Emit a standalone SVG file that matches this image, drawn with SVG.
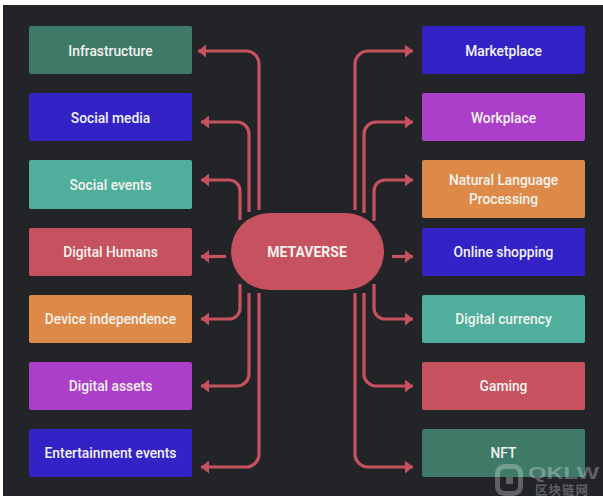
<svg xmlns="http://www.w3.org/2000/svg" width="603" height="500" viewBox="0 0 603 500">
<defs>
<marker id="ah" markerUnits="userSpaceOnUse" markerWidth="9" markerHeight="13" refX="8.500" refY="6.500" orient="auto"><path d="M0.500,0L8.500,6.500L0.500,13Z" fill="#c7525f"/></marker>
</defs>
<style>
text{font-family:"Roboto","Noto Sans","Liberation Sans",sans-serif;font-size:13.800px;font-weight:500;fill:#f2f2ee;text-anchor:middle;letter-spacing:0}
.c{fill:none;stroke:#c7525f;stroke-width:3.200}
.g{fill:#3f7a69}.b{fill:#3322c6}.t{fill:#50ae9d}.r{fill:#c7525f}.o{fill:#dd8a48}.p{fill:#ab3fc9}
.w{font-family:"Liberation Sans",sans-serif;font-weight:700;fill:#fff;fill-opacity:.28;letter-spacing:0}
</style>
<rect width="603" height="500" fill="#fff"/>
<rect x="3" y="5" width="600" height="491" fill="#232428"/>
<g id="connectors">
<path class="c" marker-end="url(#ah)" d="M259,210V64A13,13 0 0 0 246,51H198"/>
<path class="c" marker-end="url(#ah)" d="M249,212V134A12,12 0 0 0 237,122H201"/>
<path class="c" marker-end="url(#ah)" d="M240,220V191A11,11 0 0 0 229,180H201"/>
<path class="c" marker-end="url(#ah)" d="M226,256.500H201"/>
<path class="c" marker-end="url(#ah)" d="M240,284V308A11,11 0 0 1 229,319H201"/>
<path class="c" marker-end="url(#ah)" d="M249,293V374A12,12 0 0 1 237,386H201"/>
<path class="c" marker-end="url(#ah)" d="M259,293V454A13,13 0 0 1 246,467H201"/>
<path class="c" marker-end="url(#ah)" d="M355,210V64A13,13 0 0 1 368,51H413"/>
<path class="c" marker-end="url(#ah)" d="M364,213V134A12,12 0 0 1 376,122H413"/>
<path class="c" marker-end="url(#ah)" d="M374,221V191A11,11 0 0 1 385,180H413"/>
<path class="c" marker-end="url(#ah)" d="M392,256.500H413"/>
<path class="c" marker-end="url(#ah)" d="M374,284V308A11,11 0 0 0 385,319H413"/>
<path class="c" marker-end="url(#ah)" d="M364,293V374A12,12 0 0 0 376,386H413"/>
<path class="c" marker-end="url(#ah)" d="M355,293V454A13,13 0 0 0 368,467H413"/>
</g>
<g id="metaverse"><rect class="r" x="231" y="213" width="153" height="77" rx="38.500"/><text x="307" y="257" style="font-weight:700;font-size:14px">METAVERSE</text></g>
<g id="infrastructure"><rect class="g" x="29" y="26" width="163" height="48" rx="2"/><text x="110.500" y="55.500">Infrastructure</text></g>
<g id="social-media"><rect class="b" x="29" y="93" width="163" height="48" rx="2"/><text x="110.500" y="122.500">Social media</text></g>
<g id="social-events"><rect class="t" x="29" y="160" width="163" height="49" rx="2"/><text x="110.500" y="189.500">Social events</text></g>
<g id="digital-humans"><rect class="r" x="29" y="228" width="163" height="48" rx="2"/><text x="110.500" y="256.500">Digital Humans</text></g>
<g id="device-independence"><rect class="o" x="29" y="295" width="163" height="48" rx="2"/><text x="110.500" y="324">Device independence</text></g>
<g id="digital-assets"><rect class="p" x="29" y="362" width="163" height="48" rx="2"/><text x="110.500" y="391">Digital assets</text></g>
<g id="entertainment-events"><rect class="b" x="29" y="429" width="163" height="48" rx="2"/><text x="110.500" y="458">Entertainment events</text></g>
<g id="marketplace"><rect class="b" x="422" y="26" width="163" height="48" rx="2"/><text x="503.500" y="55.500">Marketplace</text></g>
<g id="workplace"><rect class="p" x="422" y="93" width="163" height="48" rx="2"/><text x="503.500" y="122.500">Workplace</text></g>
<g id="nlp"><rect class="o" x="422" y="160" width="163" height="58" rx="2"/><text x="503.500" y="185">Natural Language</text><text x="503.500" y="204">Processing</text></g>
<g id="online-shopping"><rect class="b" x="422" y="228" width="163" height="48" rx="2"/><text x="503.500" y="256.500">Online shopping</text></g>
<g id="digital-currency"><rect class="t" x="422" y="295" width="163" height="48" rx="2"/><text x="503.500" y="324">Digital currency</text></g>
<g id="gaming"><rect class="r" x="422" y="362" width="163" height="48" rx="2"/><text x="503.500" y="391">Gaming</text></g>
<g id="nft"><rect class="g" x="422" y="429" width="163" height="48" rx="2"/><text x="503.500" y="458">NFT</text></g>
<g id="watermark">
<rect x="497.500" y="466.500" width="23" height="27" rx="7" fill="none" stroke="#fff" stroke-opacity=".28" stroke-width="5"/>
<rect x="506" y="477" width="7" height="7" fill="#fff" fill-opacity=".28"/>
<text class="w" x="563.500" y="479" textLength="71" lengthAdjust="spacingAndGlyphs" style="font-size:16px">QKLW</text>
<text class="w" x="562" y="495" style="font-size:12.500px;font-family:'Noto Sans CJK SC',sans-serif;letter-spacing:1px">区块链网</text>
</g>
</svg>
